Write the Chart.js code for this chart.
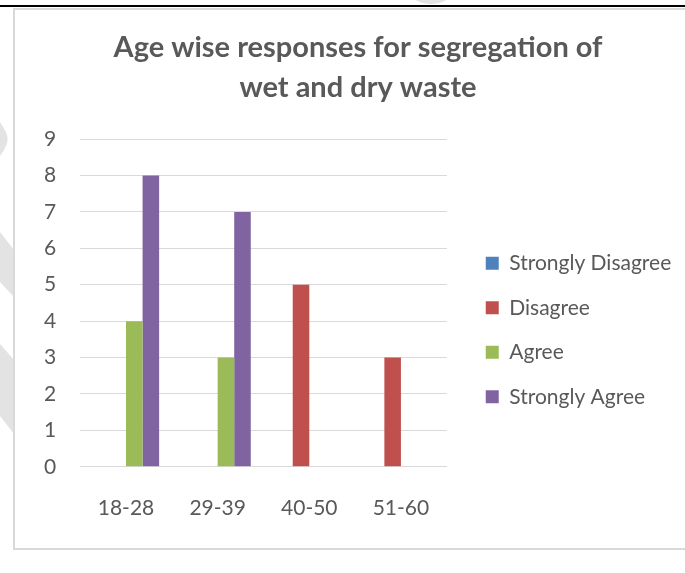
<!DOCTYPE html>
<html>
<head>
<meta charset="utf-8">
<script src="https://cdn.jsdelivr.net/npm/chart.js@4/dist/chart.umd.min.js"></script>
<style>
  html, body { margin: 0; padding: 0; width: 685px; height: 573px; overflow: hidden; background: #fff; }
  #page { position: absolute; left: 0; top: 0; width: 685px; height: 573px; }
  #rule { position: absolute; left: 0; top: 5px; width: 685px; height: 2px; background: #000; }
  #frame { position: absolute; left: 13px; top: 8px; width: 690px; height: 542px; box-sizing: border-box;
           border: 2px solid #d9d9d9; background: #fff; }
  #frame canvas { position: absolute; left: 0; top: 0; }
</style>
</head>
<body>
<svg id="page" width="685" height="573">
  <g fill="#e3e3e3">
    <ellipse cx="431" cy="-6" rx="19" ry="10"/>
    <path d="M0,122 L6,132 Q10,140 4,150 L0,156 Z"/>
    <path d="M0,232 L14,250 L14,297 L0,282 Z"/>
    <path d="M0,344 L14,360 L14,434 L0,416 Z"/>
  </g>
</svg>
<div id="rule"></div>
<div id="frame"><canvas id="chart" width="686" height="540"></canvas></div>
<script>
const categories = ['18-28', '29-39', '40-50', '51-60'];
const seriesNames = ['Strongly Disagree', 'Disagree', 'Agree', 'Strongly Agree'];
const stronglyDisagree = [0, 0, 0, 0];
const disagree = [0, 0, 5, 3];
const agree = [4, 3, 0, 0];
const stronglyAgree = [8, 7, 0, 0];
const yTicks = [0, 1, 2, 3, 4, 5, 6, 7, 8, 9];
const titleLines = ['Age wise responses for segregation of', 'wet and dry waste'];

const colors = ['#4f81bd', '#c0504d', '#9bbb59', '#8064a2'];
const seriesValues = [stronglyDisagree, disagree, agree, stronglyAgree];
const textColor = '#595959';
const fontFamily = 'Lato, "Open Sans", sans-serif';

// The title spans the whole canvas width; the legend sits a fixed gap right of the plot.
const boxPlacement = {
  id: 'boxPlacement',
  afterLayout(chart) {
    const t = chart.titleBlock;
    if (t) {
      t.left = 0;
      t.right = chart.width;
      t.width = chart.width;
    }
    const lg = chart.legend;
    if (lg) {
      const w = 240;
      lg.left = chart.chartArea.right + 15.5;
      lg.right = lg.left + w;
      lg.width = w;
      const dy = 50.5;
      lg.top += dy; lg.bottom += dy;
    }
  }
};

new Chart(document.getElementById('chart'), {
  type: 'bar',
  data: {
    labels: categories,
    datasets: seriesNames.map((name, i) => ({
      label: name,
      data: seriesValues[i],
      backgroundColor: colors[i],
      borderWidth: 0,
      categoryPercentage: 0.723,
      barPercentage: 1.0
    }))
  },
  options: {
    responsive: false,
    maintainAspectRatio: false,
    animation: false,
    layout: { padding: { left: 5, right: 112, top: 0, bottom: 1 } },
    plugins: {
      title: {
        display: true,
        text: titleLines,
        color: textColor,
        font: { family: fontFamily, size: 29, weight: 'bold', lineHeight: 1.38 },
        padding: { top: 18, bottom: 31 }
      },
      legend: {
        position: 'right',
        align: 'center',
        labels: {
          color: textColor,
          font: { family: fontFamily, size: 21 },
          boxWidth: 13,
          boxHeight: 13,
          padding: 23.5
        }
      },
      tooltip: { enabled: false }
    },
    scales: {
      x: {
        grid: { display: false, drawTicks: false },
        border: { display: true, color: '#d9d9d9', width: 1 },
        ticks: { color: textColor, font: { family: fontFamily, size: 21 }, padding: 28.5 }
      },
      y: {
        min: 0,
        max: 9,
        afterBuildTicks(scale) { scale.ticks = yTicks.map(v => ({ value: v })); },
        grid: { color: '#d9d9d9', lineWidth: 1, drawTicks: false },
        border: { display: false },
        ticks: { color: textColor, font: { family: fontFamily, size: 21 }, padding: 24 }
      }
    }
  },
  plugins: [boxPlacement]
});
</script>
</body>
</html>
